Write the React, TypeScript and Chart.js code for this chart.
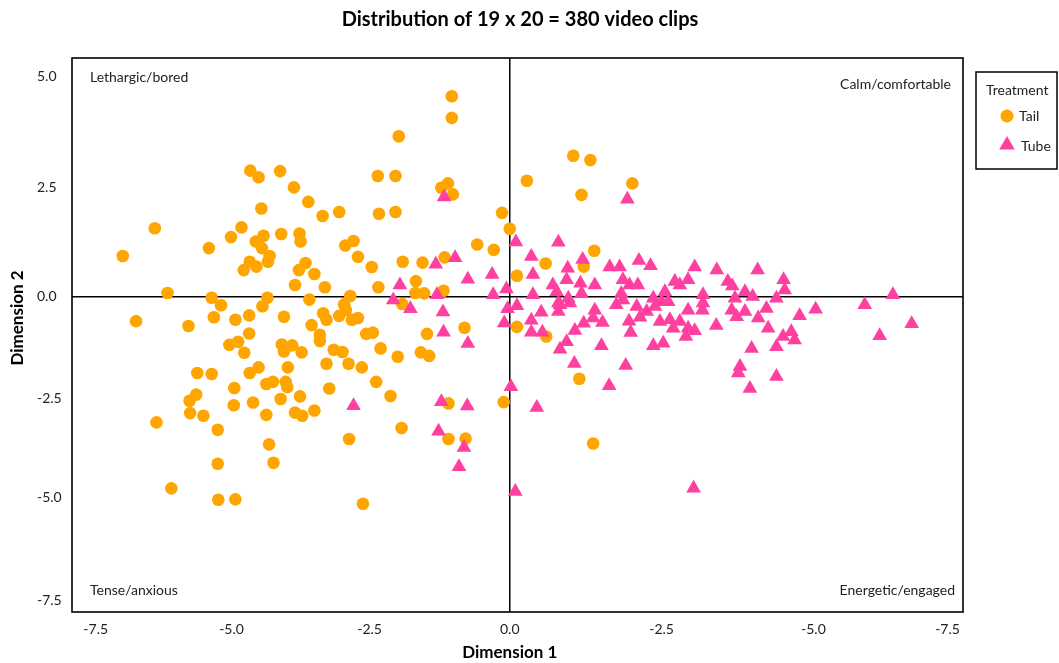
import React, { useEffect, useRef } from "react";
import { Chart, registerables } from "chart.js";

Chart.register(...registerables);

const chartTitle = "Distribution of 19 x 20 = 380 video clips";
const xAxisTitle = "Dimension 1";
const yAxisTitle = "Dimension 2";
const legendTitle = "Treatment";
const seriesNames = ["Tail", "Tube"];
const quadrantLabels = ["Lethargic/bored", "Calm/comfortable", "Tense/anxious", "Energetic/engaged"];

const xRange = [-7.93, 8.21];
const yRange = [-7.16, 5.43];
const xTickValues = [-7.5, -5.04, -2.54, 0, 2.75, 5.5, 7.93];
const xTickLabels = ["-7.5", "-5.0", "-2.5", "0.0", "-2.5", "-5.0", "-7.5"];
const yTickValues = [5.0, 2.48, 0, -2.3, -4.55, -6.89];
const yTickLabels = ["5.0", "2.5", "0.0", "-2.5", "-5.0", "-7.5"];

const tailX = [
  -4.70, -4.55, -4.16, -3.91, -3.65, -4.50, -3.39, -3.09, -2.39, -2.07,
  -2.37, -2.07, -1.24, -1.12, -1.03, -0.14, 0.00, -6.43, -7.01, -5.45,
  -5.05, -4.86, -4.60, -4.46, -4.49, -4.35, -4.38, -4.71, -4.82, -4.59,
  -4.14, -3.81, -3.79, -3.70, -3.82, -3.54, -3.89, -3.35, -2.98, -2.83,
  -2.75, -2.50, -2.38, -1.94, -1.58, -1.18, -0.59, -0.29, 0.13, -1.70,
  -1.71, -1.55, -1.20, -6.20, -5.40, -5.23, -4.39, -4.48, -3.63, -2.89,
  -3.00, -1.95, -6.77, -5.82, -5.36, -4.97, -4.72, -4.09, -3.38, -3.32,
  -3.09, -2.97, -2.86, -2.75, -3.59, -2.60, -2.48, -1.50, -0.82, 0.13,
  -4.72, -5.08, -4.92, -4.81, -4.13, -3.94, -4.09, -3.77, -3.44, -3.44,
  -3.19, -3.03, -2.34, -2.03, -1.61, -1.46, -4.02, -3.32, -2.92, -2.68,
  -5.66, -5.40, -4.71, -4.55, -4.41, -4.29, -4.06, -4.03, -4.99, -3.27,
  -2.42, -2.16, -5.68, -5.80, -5.00, -4.65, -4.15, -3.80, -5.79, -5.55,
  -4.41, -3.89, -3.76, -3.54, -1.11, -0.11, -6.40, -5.29, -1.96, -4.36,
  -2.91, -1.11, -0.80, -5.29, -4.28, -6.13, -5.28, -4.97, -2.66, -1.05,
  -1.05, -2.01, 1.15, 1.46, 0.31, 1.30, 2.22, 1.53, 0.65, 1.34,
  0.66, 1.26, 1.51,
];
const tailY = [
  2.87, 2.72, 2.86, 2.49, 2.16, 2.01, 1.84, 1.93, 2.75, 2.75,
  1.89, 1.93, 2.48, 2.58, 2.33, 1.91, 1.55, 1.56, 0.93, 1.11,
  1.36, 1.58, 1.26, 1.39, 1.11, 0.93, 0.80, 0.80, 0.61, 0.69,
  1.43, 1.44, 1.26, 0.77, 0.61, 0.52, 0.27, 0.22, 1.17, 1.27,
  0.91, 0.68, 0.22, 0.80, 0.78, 0.90, 1.19, 1.07, 0.48, 0.36,
  0.09, 0.08, 0.14, 0.09, -0.02, -0.19, -0.02, -0.21, -0.06, 0.02,
  -0.17, -0.16, -0.55, -0.66, -0.46, -0.52, -0.42, -0.45, -0.37, -0.52,
  -0.43, -0.30, -0.52, -0.48, -0.64, -0.84, -0.81, -0.84, -0.70, -0.68,
  -0.83, -1.09, -1.02, -1.27, -1.08, -1.10, -1.24, -1.26, -0.86, -1.00,
  -1.20, -1.25, -1.17, -1.36, -1.26, -1.34, -1.60, -1.52, -1.52, -1.60,
  -1.73, -1.75, -1.73, -1.60, -1.98, -1.93, -1.93, -2.05, -2.07, -2.08,
  -1.93, -2.25, -2.22, -2.36, -2.46, -2.40, -2.32, -2.26, -2.64, -2.70,
  -2.68, -2.63, -2.70, -2.58, -2.42, -2.39, -2.85, -3.02, -2.98, -3.35,
  -3.23, -3.23, -3.22, -3.79, -3.77, -4.35, -4.61, -4.60, -4.70, 4.56,
  4.07, 3.65, 3.21, 3.11, 2.64, 2.32, 2.58, 1.05, 0.76, 0.69,
  -0.90, -1.86, -3.33,
];

const tubeX = [
  -1.19, 2.13, 0.11, 0.88, 0.39, -1.34, -0.99, -1.99, -0.76, -0.32,
  0.42, 1.05, 1.32, 1.81, 1.99, 2.34, 2.55, 3.35, 3.75, 4.49,
  3.95, 4.03, 0.78, 1.03, 1.28, 1.54, 2.05, 2.17, 2.32, 2.99,
  3.08, 3.23, 4.96, 4.98, -2.11, -1.80, -1.32, -1.21, -0.30, -0.06,
  -0.04, 0.13, -0.10, -1.20, -0.76, 0.42, 0.85, 1.06, 1.30, 0.88,
  2.02, 2.05, 1.93, 2.60, 2.81, 2.75, 2.87, 3.50, 3.50, 4.08,
  4.26, 4.40, 4.83, 0.57, 0.88, 1.54, 2.30, 2.48, 2.63, 3.23,
  3.49, 4.02, 0.39, 0.39, 0.59, 1.18, 1.34, 1.51, 1.68, 2.16,
  2.19, 2.36, 2.72, 2.90, 3.08, 3.23, 3.74, 4.11, 2.96, 3.19,
  3.35, 0.91, 1.03, 1.17, 1.66, 2.60, 2.78, 2.10, 1.80, 6.94,
  6.43, 7.28, 6.70, 5.54, 5.25, 4.65, 4.26, 4.50, 4.68, 4.95,
  5.10, 5.16, 4.83, 4.38, 4.17, 4.14, 4.83, 4.35, 0.02, -1.24,
  -0.77, -2.83, -1.29, -0.83, -0.92, 0.10, 0.49, 3.33, 0.91, 1.09,
];
const tubeY = [
  2.27, 2.22, 1.25, 1.24, 0.92, 0.74, 0.89, 0.27, 0.40, 0.51,
  0.51, 0.65, 0.85, 0.68, 0.68, 0.83, 0.71, 0.68, 0.61, 0.61,
  0.35, 0.25, 0.27, 0.39, 0.31, 0.27, 0.39, 0.27, 0.27, 0.35,
  0.27, 0.39, 0.39, 0.16, -0.07, -0.27, 0.05, -0.34, 0.05, 0.18,
  -0.27, -0.20, -0.59, -0.80, -1.06, 0.05, 0.12, -0.03, 0.08, -0.14,
  0.08, -0.07, -0.18, -0.03, 0.12, -0.11, -0.11, 0.05, -0.14, -0.03,
  0.12, 0.01, -0.03, -0.35, -0.33, -0.30, -0.22, -0.33, -0.22, -0.30,
  -0.30, -0.30, -0.53, -0.80, -0.80, -0.76, -0.60, -0.48, -0.58, -0.55,
  -0.81, -0.46, -0.56, -0.52, -0.56, -0.71, -0.65, -0.45, -0.71, -0.90,
  -0.77, -1.19, -1.02, -1.51, -1.11, -1.11, -1.05, -1.56, -2.02, 0.05,
  -0.18, -0.61, -0.88, -0.28, -0.43, -0.26, -0.33, -0.48, -0.71, -0.90,
  -0.79, -0.98, -1.13, -1.17, -1.58, -1.73, -1.81, -2.08, -2.04, -2.38,
  -2.48, -2.47, -3.05, -3.42, -3.86, -4.42, -2.51, -4.35, -0.18, -0.14,
];

const tailColor = "#FFA500";
const tubeColor = "#FF40A0";
const FONT = "Lato, 'Open Sans', sans-serif";

const decorPlugin = {
  id: "decor",
  beforeDatasetsDraw(chart: any) {
    const { ctx, chartArea } = chart;
    ctx.save();
    ctx.strokeStyle = "#000";
    ctx.lineWidth = 1.6;
    ctx.strokeRect(chartArea.left, chartArea.top, chartArea.right - chartArea.left, chartArea.bottom - chartArea.top);
    ctx.restore();
  },
  afterDraw(chart: any) {
    const { ctx, chartArea, scales } = chart;
    ctx.save();
    ctx.fillStyle = "#000";
    // title
    ctx.font = `bold 20px ${FONT}`;
    ctx.textAlign = "center";
    ctx.textBaseline = "middle";
    ctx.fillText(chartTitle, 520, 20);
    // axis titles
    ctx.font = `bold 17px ${FONT}`;
    ctx.fillText(xAxisTitle, scales.x.getPixelForValue(0), 653);
    ctx.save();
    ctx.translate(18, 318);
    ctx.rotate(-Math.PI / 2);
    ctx.fillText(yAxisTitle, 0, 0);
    ctx.restore();
    // quadrant labels
    ctx.font = `14px ${FONT}`;
    ctx.fillStyle = "#222";
    ctx.textAlign = "left";
    ctx.fillText(quadrantLabels[0], chartArea.left + 18, 77);
    ctx.fillText(quadrantLabels[2], chartArea.left + 18, 590);
    ctx.textAlign = "right";
    ctx.fillText(quadrantLabels[1], chartArea.right - 12, 84);
    ctx.fillText(quadrantLabels[3], chartArea.right - 8, 590);
    // legend box
    ctx.strokeStyle = "#000";
    ctx.lineWidth = 1.5;
    ctx.strokeRect(976, 72, 81, 97);
    ctx.fillStyle = "#222";
    ctx.textAlign = "left";
    ctx.fillText(legendTitle, 986, 90);
    ctx.fillText(seriesNames[0], 1019, 116);
    ctx.fillText(seriesNames[1], 1021, 146);
    ctx.fillStyle = tailColor;
    ctx.beginPath();
    ctx.arc(1007, 116, 6.5, 0, Math.PI * 2);
    ctx.fill();
    ctx.fillStyle = tubeColor;
    const r = 9;
    const cx = 1007, cy = 145;
    ctx.beginPath();
    ctx.moveTo(cx, cy - r);
    ctx.lineTo(cx + r * Math.sin((2 * Math.PI) / 3), cy + r / 2);
    ctx.lineTo(cx - r * Math.sin((2 * Math.PI) / 3), cy + r / 2);
    ctx.closePath();
    ctx.fill();
    ctx.restore();
  },
};

export default function App() {
  const ref = useRef<HTMLCanvasElement>(null);
  useEffect(() => {
    document.body.style.margin = "0";
    const tail = tailX.map((x, i) => ({ x, y: tailY[i] }));
    const tube = tubeX.map((x, i) => ({ x, y: tubeY[i] }));
    const zeroGrid = (c: any) => (c.tick && c.tick.value === 0 ? "#000" : "rgba(0,0,0,0)");
    const chart = new Chart(ref.current!, {
      type: "scatter",
      data: {
        datasets: [
          {
            label: seriesNames[0],
            data: tail,
            pointStyle: "circle",
            pointRadius: 6.3,
            backgroundColor: tailColor,
            borderWidth: 0,
            order: 1,
          },
          {
            label: seriesNames[1],
            data: tube,
            pointStyle: "triangle",
            pointRadius: 8.5,
            backgroundColor: tubeColor,
            borderWidth: 0,
            order: 0,
          },
        ],
      },
      plugins: [decorPlugin],
      options: {
        animation: false,
        responsive: false,
        layout: { padding: { top: 58, left: 37, right: 96, bottom: 0 } },
        plugins: { legend: { display: false }, title: { display: false }, tooltip: { enabled: false } },
        scales: {
          x: {
            type: "linear",
            min: xRange[0],
            max: xRange[1],
            afterBuildTicks: (s: any) => {
              s.ticks = xTickValues.map((v) => ({ value: v }));
            },
            afterFit: (s: any) => {
              s.height = 51;
            },
            ticks: {
              autoSkip: false,
              maxRotation: 0,
              padding: 9,
              color: "#222",
              font: { family: FONT, size: 14 },
              callback: (_v: any, i: number) => xTickLabels[i],
            },
            grid: { color: zeroGrid, lineWidth: 1.5, drawTicks: false },
            border: { display: false },
          },
          y: {
            type: "linear",
            min: yRange[0],
            max: yRange[1],
            afterBuildTicks: (s: any) => {
              s.ticks = yTickValues.map((v) => ({ value: v }));
            },
            afterFit: (s: any) => {
              s.width = 35;
            },
            ticks: {
              autoSkip: false,
              crossAlign: "far",
              padding: 0,
              color: "#222",
              font: { family: FONT, size: 14 },
              callback: (_v: any, i: number) => yTickLabels[i],
            },
            grid: { color: zeroGrid, lineWidth: 1.5, drawTicks: false },
            border: { display: false },
          },
        },
      },
    } as any);
    return () => chart.destroy();
  }, []);
  return (
    <div style={{ width: 1059, height: 663 }}>
      <canvas ref={ref} width={1059} height={663} />
    </div>
  );
}
